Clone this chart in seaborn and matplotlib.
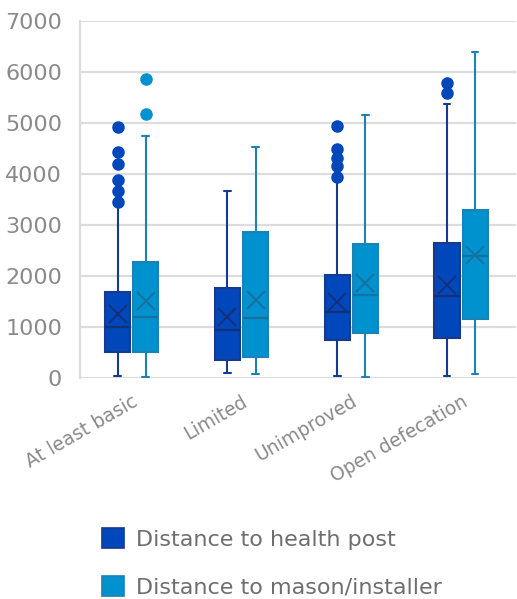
import numpy as np
import matplotlib
matplotlib.use("Agg")
from matplotlib import pyplot as plt
from matplotlib.patches import Patch
import seaborn as sns

categories = ['At least basic', 'Limited', 'Unimproved', 'Open defecation']
series = ['Distance to health post', 'Distance to mason/installer']

# box stats, per category
health_whislo = [40, 100, 40, 40]
health_q1 = [510, 350, 740, 780]
health_med = [1000, 940, 1300, 1610]
health_mean = [1250, 1200, 1490, 1820]
health_q3 = [1690, 1760, 2020, 2640]
health_whishi = [3400, 3670, 3860, 5370]
health_fliers = [[3450, 3670, 3880, 4200, 4430, 4920], [],
                 [3940, 4150, 4320, 4490, 4940], [5590, 5790]]

mason_whislo = [20, 80, 20, 70]
mason_q1 = [510, 420, 890, 1160]
mason_med = [1200, 1180, 1620, 2400]
mason_mean = [1510, 1530, 1860, 2420]
mason_q3 = [2275, 2860, 2630, 3290]
mason_whishi = [4740, 4520, 5160, 6400]
mason_fliers = [[5180, 5870], [], [], []]

sns.set_style("white")
plt.rcParams['font.family'] = ['DejaVu Sans']
grey = '#8a8a8a'

fills = ['#0047bb', '#0091cf']
edges = ['#173a8c', '#1a82b4']
marks = ['#14307a', '#15729f']


def make_stats(whislo, q1, med, mean, q3, whishi, fliers):
    out = []
    for i in range(len(categories)):
        out.append(dict(whislo=whislo[i], q1=q1[i], med=med[i], mean=mean[i],
                        q3=q3[i], whishi=whishi[i], fliers=fliers[i]))
    return out


all_stats = [
    make_stats(health_whislo, health_q1, health_med, health_mean, health_q3, health_whishi, health_fliers),
    make_stats(mason_whislo, mason_q1, mason_med, mason_mean, mason_q3, mason_whishi, mason_fliers),
]

fig = plt.figure(figsize=(5.17, 5.99), dpi=100)
ax = fig.add_axes([0.155, 0.369, 0.843, 0.596])

x = np.arange(len(categories))
offsets = [-0.128, 0.128]
for k in range(2):
    ax.bxp(all_stats[k], positions=x + offsets[k], widths=0.23,
           showmeans=True, patch_artist=True,
           boxprops=dict(facecolor=fills[k], edgecolor=edges[k], linewidth=1.5, zorder=3),
           medianprops=dict(color=marks[k], linewidth=1.6, zorder=4),
           whiskerprops=dict(color=edges[k], linewidth=1.5, zorder=3),
           capprops=dict(color=edges[k], linewidth=1.5, zorder=3),
           capwidths=0.06,
           meanprops=dict(marker='x', markersize=13, markeredgecolor=marks[k],
                          markeredgewidth=1.4, zorder=5),
           flierprops=dict(marker='o', markersize=8, markerfacecolor=fills[k],
                           markeredgecolor=fills[k], zorder=3))

ax.set_ylim(0, 7000)
ax.set_xlim(-0.47, 3.5)
ax.set_yticks(range(0, 7001, 1000))
ax.set_xticks(x)
ax.set_xticklabels(categories, rotation=30, ha='right', rotation_mode='anchor')
ax.tick_params(axis='y', labelsize=16, labelcolor=grey, length=0, pad=13)
ax.tick_params(axis='x', labelsize=13.5, labelcolor=grey, length=0, pad=10)
ax.yaxis.grid(True, color='#dcdcdc', linewidth=1.6, zorder=0)
ax.set_axisbelow(True)
for s in ['top', 'right', 'bottom']:
    ax.spines[s].set_visible(False)
ax.spines['left'].set_color('#dcdcdc')
ax.spines['left'].set_linewidth(1.6)

handles = [Patch(facecolor=fills[k], edgecolor=edges[k], linewidth=1.2) for k in range(2)]
fig.legend(handles, series, loc='upper left', bbox_to_anchor=(0.18, 0.133),
           frameon=False, fontsize=16, labelcolor='#6e6e6e',
           handlelength=1.0, handleheight=1.0, labelspacing=1.2,
           handletextpad=0.55, borderaxespad=0)

fig.savefig('out.png', dpi=100)
